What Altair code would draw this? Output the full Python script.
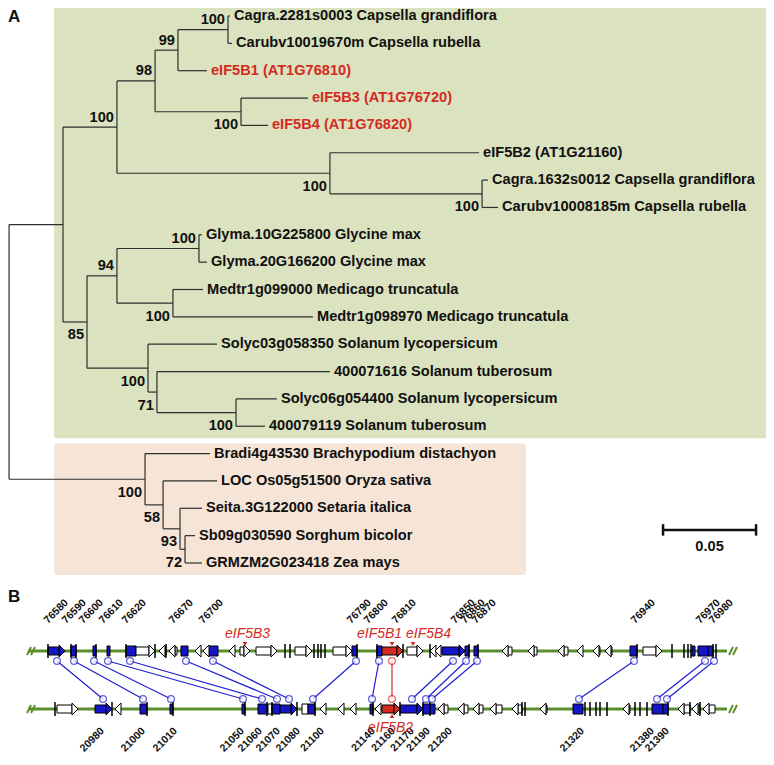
import altair as alt
import pandas as pd

FONT = "Liberation Sans"

# ---------------- Panel A: phylogeny ----------------
leaf_label = [
    "Cagra.2281s0003 Capsella grandiflora",
    "Carubv10019670m Capsella rubella",
    "eIF5B1 (AT1G76810)",
    "eIF5B3 (AT1G76720)",
    "eIF5B4 (AT1G76820)",
    "eIF5B2 (AT1G21160)",
    "Cagra.1632s0012 Capsella grandiflora",
    "Carubv10008185m Capsella rubella",
    "Glyma.10G225800 Glycine max",
    "Glyma.20G166200 Glycine max",
    "Medtr1g099000 Medicago truncatula",
    "Medtr1g098970 Medicago truncatula",
    "Solyc03g058350 Solanum lycopersicum",
    "400071616 Solanum tuberosum",
    "Solyc06g054400 Solanum lycopersicum",
    "400079119 Solanum tuberosum",
    "Bradi4g43530 Brachypodium distachyon",
    "LOC Os05g51500 Oryza sativa",
    "Seita.3G122000 Setaria italica",
    "Sb09g030590 Sorghum bicolor",
    "GRMZM2G023418 Zea mays",
]
leaf_parent = ["F", "F", "E", "G", "G", "H", "I", "I", "L", "L", "M", "M",
               "N", "O", "P", "P", "Q", "R", "S", "T", "T"]
leaf_depth = [0.1226, 0.1237, 0.1102, 0.1645, 0.1430, 0.2565, 0.2613, 0.2667,
              0.1075, 0.1102, 0.1081, 0.1672, 0.1156, 0.1763, 0.1478, 0.1414,
              0.1118, 0.1156, 0.1075, 0.1038, 0.1075]
leaf_highlight = [False, False, True, True, True, False, False, False, False, False,
                  False, False, False, False, False, False, False, False, False, False, False]

node_name = ["root", "D", "B", "C", "E", "F", "G", "H", "I", "J", "K", "L", "M",
             "N", "O", "P", "Q", "R", "S", "T"]
node_parent = [None, "root", "D", "B", "C", "E", "C", "B", "H", "D", "J", "K", "K",
               "J", "N", "O", "root", "Q", "R", "S"]
node_depth = [0.0038, 0.0328, 0.0618, 0.0823, 0.0946, 0.1215, 0.1285, 0.1763, 0.2581,
              0.0457, 0.0618, 0.1059, 0.0919, 0.0785, 0.0833, 0.1258, 0.0769, 0.0866,
              0.0957, 0.0984]
node_boot = [None, None, 100, 98, 99, 100, 100, 100, 100, 85, 94, 100, 100, 100, 71,
             100, 100, 58, 93, 72]
node_side = [None, None, "above", "above", "above", "above", "below", "below", "below",
             "below", "above", "above", "below", "below", "below", "below", "below",
             "below", "below", "below"]

# clade shading: (first leaf, last leaf, colour)
clade_first = [0, 16]
clade_last = [15, 20]
clade_right = [0.4135, 0.2817]
clade_fill = ["#dbe2bf", "#f6e5d6"]

scale_bar_len = 0.05

# ---- tree layout (rectangular cladogram) ----
depth = {}
ypos = {}
children = {n: [] for n in node_name}
for i, (nm, p, d) in enumerate(zip(leaf_label, leaf_parent, leaf_depth)):
    depth[nm] = d
    ypos[nm] = float(i)
    children[p].append(nm)
for nm, p, d in zip(node_name, node_parent, node_depth):
    depth[nm] = d
    if p is not None:
        children[p].append(nm)


def y_of(n):
    if n in ypos:
        return ypos[n]
    v = [y_of(c) for c in children[n]]
    ypos[n] = (min(v) + max(v)) / 2
    return ypos[n]


y_of("root")
parent_of = dict(zip(leaf_label, leaf_parent))
parent_of.update({n: p for n, p in zip(node_name, node_parent) if p})

seg = []
for n, p in parent_of.items():
    seg.append({"x": depth[p], "x2": depth[n], "y": ypos[n], "y2": ypos[n]})
for n in node_name:
    cy = [ypos[c] for c in children[n]]
    seg.append({"x": depth[n], "x2": depth[n], "y": min(cy), "y2": max(cy)})
seg_df = pd.DataFrame(seg)

leaf_df = pd.DataFrame({
    "label": leaf_label,
    "x": leaf_depth,
    "y": [ypos[n] for n in leaf_label],
    "col": ["#d42a22" if h else "#111111" for h in leaf_highlight],
})

boot_df = pd.DataFrame({
    "x": node_depth, "y": [ypos[n] for n in node_name],
    "boot": [str(b) if b else "" for b in node_boot], "side": node_side,
}).dropna()

box_df = pd.DataFrame({
    "x": [0.028, 0.028], "x2": clade_right,
    "y": [f - 0.37 for f in clade_first], "y2": [l + 0.44 for l in clade_last],
    "fill": clade_fill,
})

bar_x0, bar_y = 0.3554, 18.79
bar_df = pd.DataFrame({
    "x": [bar_x0, bar_x0, bar_x0 + scale_bar_len],
    "x2": [bar_x0 + scale_bar_len, bar_x0, bar_x0 + scale_bar_len],
    "y": [bar_y, bar_y - 0.21, bar_y - 0.21],
    "y2": [bar_y, bar_y + 0.21, bar_y + 0.21],
})
bar_txt = pd.DataFrame({"x": [bar_x0 + scale_bar_len / 2], "y": [bar_y + 0.62],
                        "t": [str(scale_bar_len)]})

# ---------------- Panel B: synteny ----------------
# genes: (start, end, strand, kind) on the top and bottom chromosome segments
top_genes = [
    (48, 65, 1, "blue"), (71, 76, 0, "blue"), (93, 96, 0, "blue"), (107, 110, 0, "blue"),
    (126, 136, 0, "blue"), (136, 155, 1, "white"), (159, 166, -1, "white"),
    (169, 177, -1, "white"), (181, 188, 0, "blue"), (195, 201, -1, "white"),
    (203, 208, -1, "white"), (208, 218, 0, "blue"), (229, 233, -1, "white"),
    (240, 250, 1, "white"), (256, 277, 1, "white"), (295, 312, 1, "white"),
    (333, 352, 1, "white"), (352, 357, 0, "blue"), (377, 382, 0, "blue"),
    (382, 403, 1, "red"), (407, 423, 1, "white"), (430, 434, -1, "white"),
    (435, 440, -1, "white"), (442, 465, 1, "blue"), (465, 469, 0, "blue"),
    (474, 478, 0, "blue"), (502, 512, -1, "white"), (528, 537, -1, "white"),
    (558, 568, -1, "white"), (577, 582, -1, "white"), (593, 600, -1, "white"),
    (605, 612, -1, "white"), (630, 637, 0, "blue"), (643, 662, 1, "white"),
    (692, 695, 0, "blue"), (698, 708, 0, "blue"), (708, 713, 0, "blue"),
]
top_ticks = [48, 71, 76, 96, 126, 155, 166, 285, 290, 314, 318, 321, 325, 357,
             377, 403, 430, 469, 478, 637, 672, 684, 688, 691, 713, 716]
bottom_genes = [
    (57, 78, 1, "white"), (95, 112, 1, "blue"), (115, 120, -1, "white"),
    (140, 147, 0, "blue"), (170, 173, 0, "blue"), (242, 245, 0, "blue"),
    (258, 267, 0, "blue"), (268, 272, 0, "white"), (272, 280, 0, "blue"),
    (280, 297, 1, "blue"), (302, 308, 0, "white"), (308, 315, 0, "blue"),
    (320, 325, -1, "white"), (338, 343, -1, "white"), (350, 356, -1, "white"),
    (370, 373, 0, "blue"), (375, 381, -1, "white"), (382, 400, 1, "red"),
    (400, 423, 1, "blue"), (423, 435, 0, "blue"), (438, 448, -1, "white"),
    (458, 468, -1, "white"), (473, 483, -1, "white"), (490, 502, -1, "white"),
    (512, 522, -1, "white"), (540, 547, -1, "white"), (573, 583, 0, "blue"),
    (623, 630, -1, "white"), (652, 663, 0, "blue"), (663, 668, 0, "blue"),
    (678, 690, -1, "white"), (692, 700, -1, "white"), (703, 715, -1, "white"),
]
bottom_ticks = [55, 112, 147, 173, 245, 267, 272, 297, 315, 373, 400, 423, 430,
                522, 525, 585, 590, 596, 600, 607, 635, 640, 647, 668, 690, 700]

link_top = [57, 74, 94, 108, 130, 186, 213, 356, 379, 392, 453, 466, 477, 634, 705, 714]
link_bottom = [103, 143, 171, 243, 262, 277, 289, 313, 372, 392, 412, 426, 432, 579, 657, 667]
link_is_eif5b = [False] * 9 + [True] + [False] * 6

top_labels = ["76580", "76590", "76600", "76610", "76620", "76670", "76700", "76790",
              "76800", "76810", "76850", "76860", "76870", "76940", "76970", "76980"]
top_label_pos = [48, 66, 83, 103, 126, 173, 203, 351, 368, 396, 455, 465, 476, 635, 700, 713]
bottom_labels = ["20980", "21000", "21010", "21050", "21060", "21070", "21080", "21100",
                 "21140", "21160", "21170", "21190", "21200", "21320", "21380", "21390"]
bottom_label_pos = [99, 140, 172, 239, 257, 275, 295, 319, 370, 390, 409, 425, 447, 579, 649, 664]

eif_names = ["eIF5B3", "eIF5B1", "eIF5B4", "eIF5B2"]
eif_pos = [245, 392, 413, 392]
eif_text_pos = [225, 357, 406, 368]
eif_track = [1, 1, 1, 0]

track_start, track_end = 28, 727
kind_colors = {"blue": "#1515c8", "white": "#ffffff", "red": "#d42a22"}

# track units: 1 = top chromosome, 0 = bottom chromosome (58 px apart)
PX = 1 / 58.0


def gene_frames(genes, track):
    bodies, heads = [], []
    for s, e, strand, kind in genes:
        hl = 6 if strand else 0
        h = 4 * PX if strand else 5 * PX
        if strand == 1:
            b0, b1 = s, max(s, e - hl)
            heads.append({"x": e - 3, "y": track, "dir": "r", "fill": kind_colors[kind]})
        elif strand == -1:
            b0, b1 = min(e, s + hl), e
            heads.append({"x": s + 3, "y": track, "dir": "l", "fill": kind_colors[kind]})
        else:
            b0, b1 = s, e
        if b1 > b0:
            bodies.append({"x": b0, "x2": b1, "y": track - h, "y2": track + h,
                           "fill": kind_colors[kind]})
    return bodies, heads


bt, ht = gene_frames(top_genes, 1)
bb, hb = gene_frames(bottom_genes, 0)
body_df = pd.DataFrame(bt + bb)
head_df = pd.DataFrame(ht + hb)
tick_df = pd.DataFrame(
    [{"x": t, "y": 1 - 7 * PX, "y2": 1 + 7 * PX} for t in top_ticks]
    + [{"x": t, "y": -7 * PX, "y2": 7 * PX} for t in bottom_ticks])

line_df = pd.DataFrame({"x": [track_start] * 2, "x2": [track_end] * 2, "y": [1, 0]})
slash = []
for tr in (1, 0):
    for base in (track_start, track_end):
        for off in (0, 4):
            x0 = base + off + (-1 if base == track_start else 2)
            slash.append({"x": x0, "x2": x0 + 4, "y": tr - 4 * PX, "y2": tr + 4 * PX})
slash_df = pd.DataFrame(slash)

link_col = ["#d42a22" if r else "#1f1fd0" for r in link_is_eif5b]
link_df = pd.DataFrame({"x": link_top, "x2": link_bottom,
                        "y": [1 - 10 * PX] * len(link_top),
                        "y2": [10 * PX] * len(link_top), "col": link_col})
circ_df = pd.DataFrame({
    "x": link_top + link_bottom,
    "y": [1 - 10 * PX] * len(link_top) + [10 * PX] * len(link_bottom),
    "col": link_col + link_col,
})

toplab_df = pd.DataFrame({"x": top_label_pos, "y": [1 + 27 * PX] * len(top_labels),
                          "t": top_labels})
botlab_df = pd.DataFrame({"x": bottom_label_pos, "y": [-17 * PX] * len(bottom_labels),
                          "t": bottom_labels})
eif_df = pd.DataFrame({"x": eif_text_pos,
                       "y": [1 + 17 * PX if t else -19 * PX for t in eif_track],
                       "t": eif_names})
mark_df = pd.DataFrame({"x": eif_pos, "y": [1 + 7 * PX if t else -7 * PX for t in eif_track],
                        "tr": eif_track})

# ---------------- scales ----------------
TX = alt.Scale(domain=[0, 0.4], range=[-6, 738], nice=False, zero=False)
TY = alt.Scale(domain=[0, 20], range=[8, 555], nice=False, zero=False)
BX = alt.Scale(domain=[8, 766], range=[0, 758], nice=False, zero=False)
BY = alt.Scale(domain=[0, 1], range=[701, 643], nice=False, zero=False)


def xa(s, f="x"):
    return alt.X(f"{f}:Q", scale=s, axis=None)


def ya(s, f="y"):
    return alt.Y(f"{f}:Q", scale=s, axis=None)


TREE_FS = 14.6
layers = []
# Panel A
layers.append(alt.Chart(box_df).mark_rect(cornerRadius=3).encode(
    x=xa(TX), x2="x2:Q", y=ya(TY), y2="y2:Q", fill=alt.Fill("fill:N", scale=None)))
layers.append(alt.Chart(seg_df).mark_rule(color="#2e2e2e", strokeWidth=1.2).encode(
    x=xa(TX), x2="x2:Q", y=ya(TY), y2="y2:Q"))
layers.append(alt.Chart(leaf_df).mark_text(
    align="left", baseline="middle", dx=4, font=FONT, fontSize=TREE_FS,
    fontWeight="bold").encode(
    x=xa(TX), y=ya(TY), text="label:N", color=alt.Color("col:N", scale=None)))
layers.append(alt.Chart(boot_df).transform_filter(alt.datum.side == "above").mark_text(
    align="right", baseline="middle", dx=-3, dy=-9.5, font=FONT, fontSize=TREE_FS,
    fontWeight="bold", color="#111111").encode(x=xa(TX), y=ya(TY), text="boot:N"))
layers.append(alt.Chart(boot_df).transform_filter(alt.datum.side == "below").mark_text(
    align="right", baseline="middle", dx=-3, dy=13.5, font=FONT, fontSize=TREE_FS,
    fontWeight="bold", color="#111111").encode(x=xa(TX), y=ya(TY), text="boot:N"))
layers.append(alt.Chart(bar_df).mark_rule(color="#111111", strokeWidth=2.5).encode(
    x=xa(TX), x2="x2:Q", y=ya(TY), y2="y2:Q"))
layers.append(alt.Chart(bar_txt).mark_text(
    align="center", baseline="middle", font=FONT, fontSize=TREE_FS, fontWeight="bold",
    color="#111111").encode(x=xa(TX), y=ya(TY), text="t:N"))

# Panel B
layers.append(alt.Chart(link_df).mark_rule(strokeWidth=1.2).encode(
    x=xa(BX), x2="x2:Q", y=ya(BY), y2="y2:Q", color=alt.Color("col:N", scale=None)))
layers.append(alt.Chart(circ_df).mark_point(
    shape="circle", size=45, filled=True, fill="white", strokeWidth=1.3).encode(
    x=xa(BX), y=ya(BY), stroke=alt.Stroke("col:N", scale=None)))
layers.append(alt.Chart(line_df).mark_rule(color="#5b8f2d", strokeWidth=3).encode(
    x=xa(BX), x2="x2:Q", y=ya(BY)))
layers.append(alt.Chart(slash_df).mark_rule(color="#5b8f2d", strokeWidth=2).encode(
    x=xa(BX), x2="x2:Q", y=ya(BY), y2="y2:Q"))
layers.append(alt.Chart(body_df).mark_rect(stroke="black", strokeWidth=1).encode(
    x=xa(BX), x2="x2:Q", y=ya(BY), y2="y2:Q", fill=alt.Fill("fill:N", scale=None)))
layers.append(alt.Chart(head_df).transform_filter(alt.datum.dir == "r").mark_point(
    shape="M-0.5,-1L0.5,0L-0.5,1Z", size=144, filled=True, stroke="black",
    strokeWidth=1, opacity=1).encode(
    x=xa(BX), y=ya(BY), fill=alt.Fill("fill:N", scale=None)))
layers.append(alt.Chart(head_df).transform_filter(alt.datum.dir == "l").mark_point(
    shape="M0.5,-1L-0.5,0L0.5,1Z", size=144, filled=True, stroke="black",
    strokeWidth=1, opacity=1).encode(
    x=xa(BX), y=ya(BY), fill=alt.Fill("fill:N", scale=None)))
layers.append(alt.Chart(tick_df).mark_rule(color="black", strokeWidth=1.5).encode(
    x=xa(BX), y=ya(BY), y2="y2:Q"))
layers.append(alt.Chart(toplab_df).mark_text(
    angle=315, align="left", baseline="alphabetic", font=FONT, fontSize=10.5,
    fontWeight="bold", color="#111111").encode(x=xa(BX), y=ya(BY), text="t:N"))
layers.append(alt.Chart(botlab_df).mark_text(
    angle=315, align="right", baseline="top", font=FONT, fontSize=10.5,
    fontWeight="bold", color="#111111").encode(x=xa(BX), y=ya(BY), text="t:N"))
layers.append(alt.Chart(eif_df).mark_text(
    align="left", baseline="middle", font=FONT, fontSize=14, fontStyle="italic",
    color="#d42a22").encode(x=xa(BX), y=ya(BY), text="t:N"))
layers.append(alt.Chart(mark_df).transform_filter(alt.datum.tr == 1).mark_point(
    shape="triangle-down", size=22, filled=True, color="#d42a22", opacity=1).encode(
    x=xa(BX), y=ya(BY)))
layers.append(alt.Chart(mark_df).transform_filter(alt.datum.tr == 0).mark_point(
    shape="triangle-up", size=22, filled=True, color="#d42a22", opacity=1).encode(
    x=xa(BX), y=ya(BY)))

# panel letters
letters = pd.DataFrame({"t": ["A", "B"], "px": [0, 0], "py": [9, 589]})
layers.append(alt.Chart(letters).mark_text(
    align="left", baseline="middle", font=FONT, fontSize=17, fontWeight="bold",
    color="#111111").encode(
    x=alt.X("px:Q", scale=alt.Scale(domain=[0, 758], range=[0, 758], nice=False, zero=False), axis=None),
    y=alt.Y("py:Q", scale=alt.Scale(domain=[0, 745], range=[0, 745], nice=False, zero=False), axis=None),
    text="t:N"))

chart = alt.layer(*layers).resolve_scale(x="independent", y="independent").properties(
    width=758, height=747, padding=0, autosize=alt.AutoSizeParams(type="none"),
    background="white",
).configure_view(strokeWidth=0)

chart.save("out.html", embed_options={"renderer": "svg", "actions": False})
